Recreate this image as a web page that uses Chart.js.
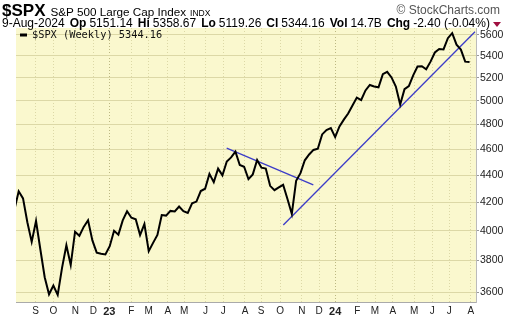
<!DOCTYPE html>
<html>
<head>
<meta charset="utf-8">
<script src="https://cdn.jsdelivr.net/npm/chart.js@4"></script>
<style>
  html, body { margin: 0; padding: 0; background: #fff; }
  #wrap { position: relative; width: 520px; height: 318px; overflow: hidden; font-family: "Liberation Sans", Arial, sans-serif; }
  #c { position: absolute; left: 0; top: 0; }
  .row { position: absolute; white-space: nowrap; display: flex; align-items: baseline; color: #000; }
  #r1 { left: 2px; top: 1px; }
  #r2 { left: 2px; top: 16px; font-size: 12px; }
  #r2 b { font-weight: bold; margin-right: 3px; }
  #r2 span { margin-right: 5px; }
  #brand { position: absolute; right: 20px; top: 3px; font-size: 12px; color: #555; }
  .tri { display: inline-block; width: 0; height: 0; border-left: 4px solid transparent; border-right: 4px solid transparent; border-top: 5px solid #a01040; margin-left: 3px; }
</style>
</head>
<body>
<div id="wrap">
  <canvas id="c" width="520" height="318"></canvas>
  <div class="row" id="r1">
    <b style="font-size:17px;margin-right:5px">$SPX</b>
    <span style="font-size:11.7px;margin-right:4px">S&amp;P 500 Large Cap Index</span>
    <span style="font-size:8.5px">INDX</span>
  </div>
  <div id="brand">&copy; StockCharts.com</div>
  <div class="row" id="r2">
    <span>9-Aug-2024</span>
    <b>Op</b><span>5151.14</span>
    <b>Hi</b><span>5358.67</span>
    <b>Lo</b><span>5119.26</span>
    <b>Cl</b><span>5344.16</span>
    <b>Vol</b><span>14.7B</span>
    <b>Chg</b><span style="margin-right:0">-2.40 (-0.04%)</span><i class="tri"></i>
  </div>
</div>
<script>
// ---------------- DATA (weekly closes) ----------------
// week 0 = 5-Aug-2022, last = 9-Aug-2024
const weeklyClose = [
  4145, 4280, 4228, 4058, 3924, 4067, 3873, 3693, 3586, 3640,
  3583, 3753, 3901, 3771, 3993, 3965, 4026, 4072, 3934, 3852,
  3845, 3840, 3895, 3999, 3973, 4071, 4136, 4090, 4079, 3970,
  4046, 3862, 3917, 3971, 4109, 4105, 4138, 4134, 4169, 4136,
  4124, 4192, 4205, 4282, 4299, 4410, 4348, 4450, 4399, 4505,
  4536, 4582, 4478, 4464, 4370, 4406, 4516, 4457, 4450, 4320,
  4288, 4309, 4328, 4224, 4117, 4358, 4415, 4514, 4559, 4595,
  4604, 4719, 4755, 4770, 4697, 4784, 4840, 4891, 4959, 5027,
  5006, 5089, 5137, 5124, 5117, 5234, 5254, 5204, 5123, 4967,
  5100, 5128, 5223, 5303, 5305, 5278, 5347, 5432, 5465, 5460,
  5567, 5615, 5505, 5459, 5347, 5344
];

// trendlines drawn on the chart: [week, price] end points
const downTrend = [[48.98, 4609], [68.96, 4327]];
const upTrend = [[62.04, 4039], [106.26, 5628]];

// month labels and where they sit (in weeks)
const monthLabels = ['S','O','N','D','23','F','M','A','M','J','J','A',
                     'S','O','N','D','24','F','M','A','M','J','J','A'];
const monthPos = [4.9, 9.0, 14.1, 18.2, 21.9, 27.0, 31.0, 35.4, 39.2, 44.1, 48.2, 53.2,
                  56.9, 61.3, 66.3, 70.3, 74.0, 79.1, 83.2, 87.3, 92.2, 96.4, 100.3, 105.3];

const priceTicks = [3600, 3800, 4000, 4200, 4400, 4600, 4800, 5000, 5200, 5400, 5600];

// ---------------- CHART ----------------
const BG = 'rgb(250,248,206)';
const GRID = 'rgb(220,216,166)';
const YEARGRID = 'rgb(188,184,130)';

const isYear = (lbl) => lbl === '23' || lbl === '24';

const bgPlugin = {
  id: 'bg',
  beforeDraw(chart) {
    const { ctx, chartArea: a } = chart;
    ctx.save();
    ctx.fillStyle = BG;
    ctx.fillRect(a.left, a.top, a.right - a.left, a.bottom - a.top);
    ctx.restore();
  }
};

const legendPlugin = {
  id: 'inlegend',
  afterDraw(chart) {
    const { ctx, chartArea: a } = chart;
    ctx.save();
    ctx.strokeStyle = '#000';
    ctx.lineWidth = 3;
    ctx.beginPath();
    ctx.moveTo(a.left + 4, a.top + 7);
    ctx.lineTo(a.left + 11, a.top + 7);
    ctx.stroke();
    ctx.fillStyle = '#111';
    ctx.font = '10.3px "DejaVu Sans Mono", monospace';
    ctx.textBaseline = 'middle';
    ctx.fillText('$SPX (Weekly) 5344.16', a.left + 16, a.top + 7);
    ctx.restore();
  }
};

new Chart(document.getElementById('c'), {
  type: 'line',
  data: {
    datasets: [
      {
        label: '$SPX',
        data: weeklyClose.map((v, i) => ({ x: i, y: v })),
        borderColor: '#000',
        borderWidth: 2,
        pointRadius: 0,
        tension: 0
      },
      {
        label: 'down',
        data: downTrend.map(p => ({ x: p[0], y: p[1] })),
        borderColor: 'rgb(60,60,200)',
        borderWidth: 1.3,
        pointRadius: 0
      },
      {
        label: 'up',
        data: upTrend.map(p => ({ x: p[0], y: p[1] })),
        borderColor: 'rgb(60,60,200)',
        borderWidth: 1.3,
        pointRadius: 0
      }
    ]
  },
  options: {
    responsive: false,
    animation: false,
    layout: { padding: { left: 16, top: 28, right: 0, bottom: 0 } },
    plugins: { legend: { display: false }, tooltip: { enabled: false } },
    scales: {
      x: {
        type: 'linear',
        min: 0.38,
        max: 106.49,
        afterBuildTicks: (s) => { s.ticks = monthPos.map(v => ({ value: v })); },
        afterFit: (s) => { s.height = 16; },
        ticks: {
          autoSkip: false,
          maxRotation: 0,
          padding: 3,
          color: '#222',
          callback: (v, i) => monthLabels[i],
          font: (c) => isYear(monthLabels[c.index])
            ? { family: 'Liberation Sans', size: 11, weight: 'bold' }
            : { family: 'Liberation Sans', size: 10 }
        },
        grid: {
          color: (c) => isYear(monthLabels[c.index]) ? YEARGRID : GRID,
          lineWidth: 1,
          tickLength: 0,
          drawTicks: false
        },
        border: { color: '#aaa', dash: [1, 2] }
      },
      y: {
        type: 'logarithmic',
        position: 'right',
        min: 3539,
        max: 5665,
        afterBuildTicks: (s) => { s.ticks = priceTicks.map(v => ({ value: v })); },
        afterFit: (s) => { s.width = 44; },
        ticks: {
          autoSkip: false,
          padding: 1,
          color: '#222',
          font: { family: 'Liberation Sans', size: 10.5 },
          callback: (v) => String(v)
        },
        grid: {
          color: GRID,
          tickColor: '#999',
          tickLength: 3
        },
        border: { color: '#bbb' }
      }
    }
  },
  plugins: [bgPlugin, legendPlugin]
});
</script>
</body>
</html>
